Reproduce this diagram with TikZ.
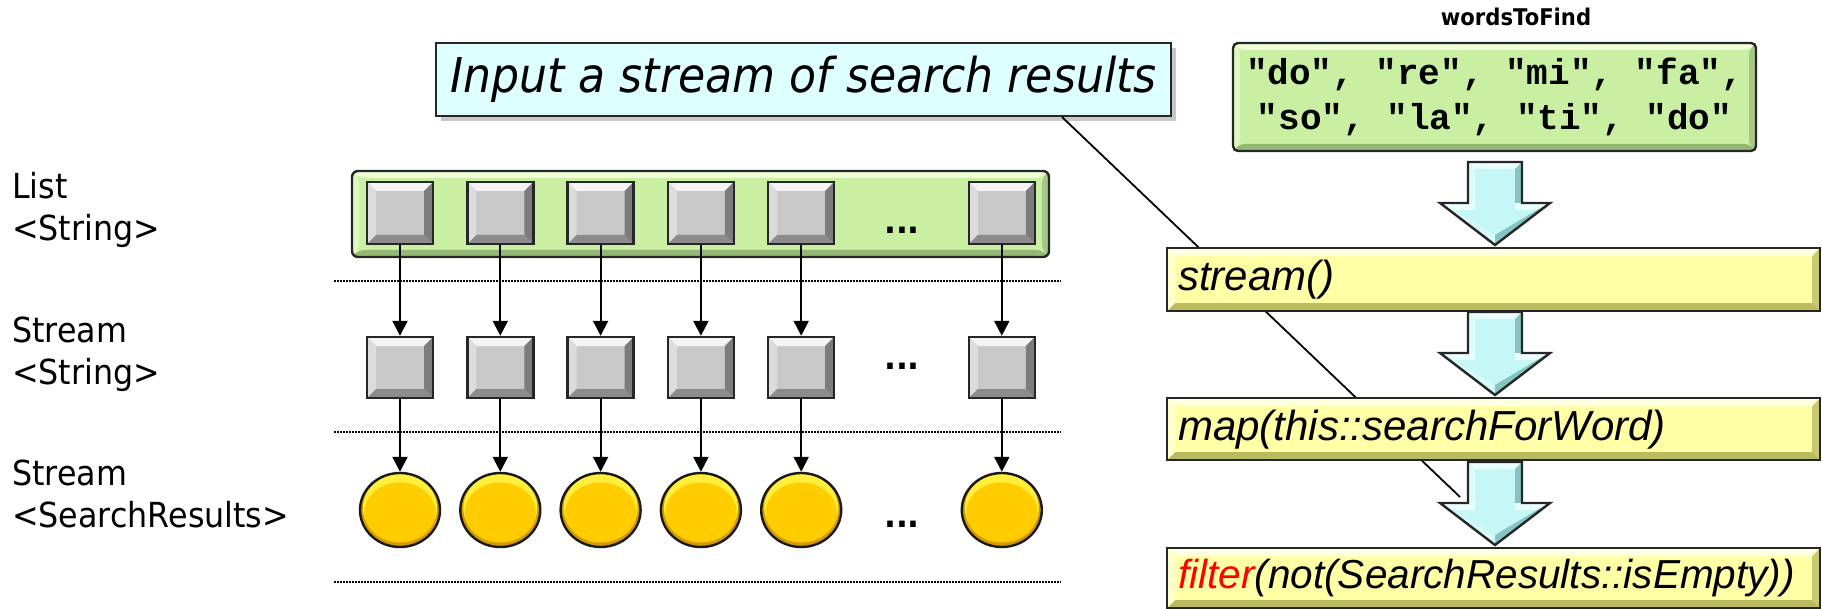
\documentclass[tikz,border=0pt]{standalone}
\usepackage{fontspec}
\setmainfont{DejaVu Sans}
\setmonofont{Liberation Mono}
\newfontfamily\tah{DejaVu Sans}[FakeStretch=0.92]
\newfontfamily\ari{Liberation Sans}
\usetikzlibrary{shapes.geometric,arrows.meta,shadows}
\definecolor{grn}{HTML}{C9EFA3}
\definecolor{grnT}{HTML}{F2FFD6}
\definecolor{grnL}{HTML}{DDF7C0}
\definecolor{grnR}{HTML}{A6C886}
\definecolor{grnB}{HTML}{94B874}
\definecolor{gry}{HTML}{C8C8C8}
\definecolor{gryT}{HTML}{F4F4F4}
\definecolor{gryL}{HTML}{DCDCDC}
\definecolor{gryR}{HTML}{7C7C7C}
\definecolor{gryB}{HTML}{8C8C8C}
\definecolor{yel}{HTML}{FFFFA6}
\definecolor{yelT}{HTML}{FFFFE2}
\definecolor{yelL}{HTML}{FFFFCC}
\definecolor{yelR}{HTML}{CACA70}
\definecolor{yelB}{HTML}{BABA5E}
\definecolor{cal}{HTML}{DDFFFF}
\definecolor{arw}{HTML}{C6F7F7}
\definecolor{arwL}{HTML}{EAFFFF}
\definecolor{arwD}{HTML}{86C4C4}
\definecolor{gold}{HTML}{FFCC00}
\definecolor{goldL}{HTML}{FFEE3A}
\definecolor{goldD}{HTML}{D49A00}
\definecolor{fred}{HTML}{FF0000}
\newcommand\bigarrow[1]{%
  \begin{scope}[shift={(1495,#1)}]
    \fill[arw] (-27,0) -- (27,0) -- (27,41) -- (55,41) -- (0,83) -- (-55,41) -- (-27,41) -- cycle;
    \fill[arwL] (-27,0) -- (27,0) -- (20,7) -- (-20,7) -- cycle;
    \fill[arwL!60!arw] (-27,0) -- (-20,7) -- (-20,41) -- (-27,41) -- cycle;
    \fill[arwD] (27,0) -- (20,7) -- (20,41) -- (27,41) -- cycle;
    \fill[arwL] (-55,41) -- (-20,41) -- (-20,48) -- (-42,48) -- cycle;
    \fill[arwL] (20,41) -- (55,41) -- (42,48) -- (20,48) -- cycle;
    \fill[arwD] (55,41) -- (0,83) -- (0,73) -- (42,48) -- cycle;
    \fill[arwL!40!arw] (-55,41) -- (0,83) -- (0,73) -- (-42,48) -- cycle;
    \draw[line width=2.4pt, draw=black!85, line join=miter] (-27,0) -- (27,0) -- (27,41) -- (55,41) -- (0,83) -- (-55,41) -- (-27,41) -- cycle;
  \end{scope}}
\tikzset{
  bevel/.style n args={5}{path picture={
    \fill[#2] (path picture bounding box.north west) -- (path picture bounding box.north east) -- ([xshift=-#1,yshift=-#1]path picture bounding box.north east) -- ([xshift=#1,yshift=-#1]path picture bounding box.north west) -- cycle;
    \fill[#3] (path picture bounding box.north west) -- (path picture bounding box.south west) -- ([xshift=#1,yshift=#1]path picture bounding box.south west) -- ([xshift=#1,yshift=-#1]path picture bounding box.north west) -- cycle;
    \fill[#4] (path picture bounding box.north east) -- (path picture bounding box.south east) -- ([xshift=-#1,yshift=#1]path picture bounding box.south east) -- ([xshift=-#1,yshift=-#1]path picture bounding box.north east) -- cycle;
    \fill[#5] (path picture bounding box.south west) -- (path picture bounding box.south east) -- ([xshift=-#1,yshift=#1]path picture bounding box.south east) -- ([xshift=#1,yshift=#1]path picture bounding box.south west) -- cycle;
  }},
  sq/.style={draw=black!85, line width=2.4pt, fill=gry, minimum width=66pt, minimum height=62pt, inner sep=0pt,
    bevel={9pt}{gryT}{gryL}{gryR}{gryB}},
  ball/.style={ellipse, draw=black!90, line width=2.4pt, minimum width=80pt, minimum height=74pt, inner sep=0pt, fill=goldD,
    path picture={
      \fill[goldL] ([yshift=2pt]path picture bounding box.center) ellipse [x radius=37pt, y radius=34pt];
      \fill[gold] ([yshift=-2.5pt]path picture bounding box.center) ellipse [x radius=35.5pt, y radius=30pt];
    }},
  conn/.style={line width=2pt, -{Triangle[length=15pt,width=15pt]}},
  sepline/.style={line width=1.5pt, dash pattern=on 1.5pt off 1.5pt},
  lbl/.style={font=\tah\fontsize{34.5}{42}\selectfont, align=left, inner sep=0pt, anchor=north west},
  dots/.style={font=\tah\bfseries\fontsize{34}{40}\selectfont, inner sep=0pt, anchor=base},
  ybox/.style={draw=black!85, line width=2.4pt, fill=yel, minimum width=653pt, text width=631pt, inner xsep=11pt, inner ysep=0pt,
    align=left, font=\ari\itshape\fontsize{42}{48}\selectfont, anchor=north west,
    bevel={8pt}{yelT}{yelL}{yelR}{yelB}},
}
\begin{document}
\begin{tikzpicture}[x=1pt,y=-1pt]
\useasboundingbox (0,0) rectangle (1822,609);
% left labels
\node[lbl] (l1) at (12,172) {List\\<String>};
\node[lbl] (l2) at (12,317) {Stream\\<String>};
\node[lbl] (l3) at (12,460) {Stream\\<SearchResults>};
% separators
\draw[sepline] (334,281) -- (1061,281);
\draw[sepline] (334,432) -- (1061,432);
\draw[sepline] (334,582) -- (1061,582);
% list bar
\node[draw=black!85, line width=2.4pt, fill=grn, rounded corners=6pt, minimum width=697pt, minimum height=86pt, inner sep=0pt,
  bevel={7pt}{grnT}{grnL}{grnR}{grnB}] (bar) at (700.5,214) {};
\foreach \i/\x in {1/400,2/500.3,3/600.6,4/700.9,5/801.2,6/1001.8}{
  \node[sq] (a\i) at (\x,213) {};
  \node[sq, minimum height=61pt] (b\i) at (\x,367.5) {};
  \node[ball] (c\i) at (\x,510) {};
  \draw[conn] (a\i) -- (b\i);
  \draw[conn] (b\i) -- (c\i);
}
\node[dots] (d1) at (902,234) {...};
\node[dots] (d2) at (902,369) {...};
\node[dots] (d3) at (902,527) {...};
% callout
\node[draw=black!85, line width=2pt, fill=cal, minimum width=735pt, minimum height=73pt, inner sep=0pt,
  drop shadow={shadow xshift=5pt, shadow yshift=-5pt, fill=black!50, opacity=0.45},
  font=\tah\itshape\fontsize{48}{56}\selectfont] (callout) at (803.5,79.5) {Input a stream of search results};
\coordinate (ctip) at (1460,497);
\draw[line width=1.8pt] ([xshift=-110pt]callout.south east) -- (ctip);
% words
\node[font=\tah\bfseries\fontsize{23}{26}\selectfont, inner sep=0pt] (wtf) at (1516,17) {wordsToFind};
\node[draw=black!85, line width=2.4pt, fill=grn, rounded corners=5pt, minimum width=523pt, minimum height=108pt, inner sep=0pt,
  align=center, font=\ttfamily\bfseries\fontsize{36}{45}\selectfont,
  bevel={7pt}{grnT}{grnL}{grnR}{grnB}] (words) at (1494.5,97) {"do", "re", "mi", "fa",\\ "so", "la", "ti", "do"};
% pipeline
\node[ybox, minimum height=63pt] (s1) at (1166,247) {stream()};
\node[ybox, minimum height=62pt] (s2) at (1166,397) {map(this::searchForWord)};
\node[ybox, minimum height=60pt, font=\ari\itshape\fontsize{40.5}{46}\selectfont] (s3) at (1166,547) {\textcolor{fred}{filter}(not(SearchResults::isEmpty))};
\bigarrow{162}
\bigarrow{312}
\bigarrow{462}
\end{tikzpicture}
\end{document}
